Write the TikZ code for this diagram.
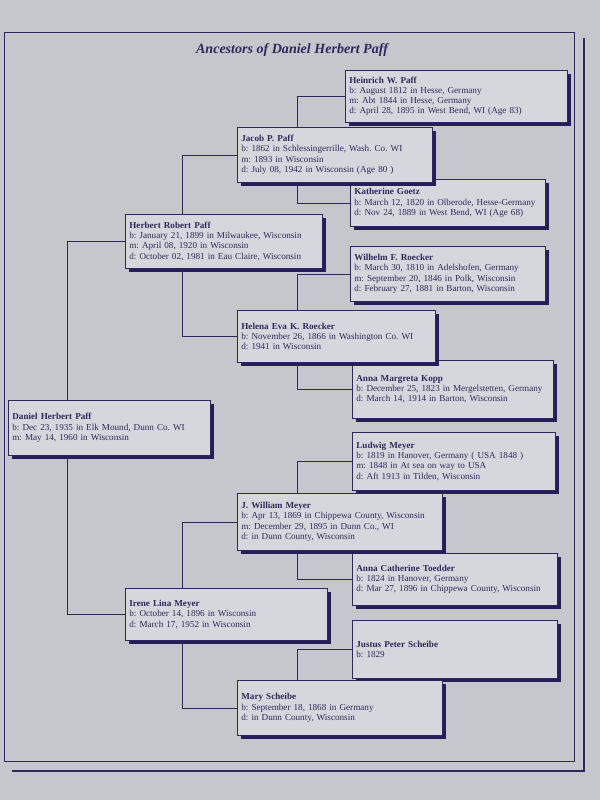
\documentclass[tikz,border=0pt]{standalone}
\usepackage{fontspec}
\setmainfont{Liberation Serif}
\usetikzlibrary{shadows}

\definecolor{ink}{RGB}{45,40,92}
\definecolor{boxfill}{RGB}{214,215,221}
\definecolor{paper}{RGB}{198,199,204}
\definecolor{shade}{RGB}{38,30,90}

\begin{document}
\frenchspacing
\begin{tikzpicture}[x=0.03cm, y=-0.03cm,
        % Box di una persona con ombra
        person/.style={
            draw=ink, fill=boxfill, line width=0.6pt,
            anchor=north west, align=left, text=ink,
            inner xsep=0.12cm, inner ysep=2pt,
            font=\fontsize{7.8}{8.7}\selectfont\frenchspacing,
            drop shadow={shadow xshift=3pt, shadow yshift=-3pt, fill=shade, opacity=1}
        },
        % Linee di collegamento
        link/.style={draw=ink, line width=0.6pt},
    ]

    % sfondo e cornice
    \fill[paper] (0,0) rectangle (600,800);
    \useasboundingbox (0,0) rectangle (600,800);
    \draw[ink, line width=0.8pt] (4,32) rectangle (574,761);
    \draw[ink, line width=2.5pt] (584,38) |- (12,771);

    \node[text=ink, font=\fontsize{12}{14}\selectfont\bfseries\itshape] (title) at (292,50) {Ancestors of Daniel Herbert Paff};

    % quarta generazione
    \node[person, text width=6.42cm, minimum height=1.56cm] (heinrich) at (345,70) {\textbf{Heinrich W. Paff}\\ b: August 1812 in Hesse, Germany\\ m: Abt 1844 in Hesse, Germany\\ d: April 28, 1895 in West Bend, WI (Age 83)};
    \node[person, text width=5.61cm, minimum height=1.41cm] (katherine) at (350,179) {\textbf{Katherine Goetz}\\ b: March 12, 1820 in Olberode, Hesse-Germany\\ d: Nov 24, 1889 in West Bend, WI (Age 68)};
    \node[person, text width=5.61cm, minimum height=1.65cm] (wilhelm) at (350,246) {\textbf{Wilhelm F. Roecker}\\ b: March 30, 1810 in Adelshofen, Germany\\ m: September 20, 1846 in Polk, Wisconsin\\ d: February 27, 1881 in Barton, Wisconsin};
    \node[person, text width=5.79cm, minimum height=1.74cm] (annam) at (352,360) {\textbf{Anna Margreta Kopp}\\ b: December 25, 1823 in Mergelstetten, Germany\\ d: March 14, 1914 in Barton, Wisconsin};
    \node[person, text width=5.85cm, minimum height=1.74cm] (ludwig) at (352,432) {\textbf{Ludwig Meyer}\\ b: 1819 in Hanover, Germany ( USA 1848 )\\ m: 1848 in At sea on way to USA\\ d: Aft 1913 in Tilden, Wisconsin};
    \node[person, text width=5.91cm, minimum height=1.56cm] (annac) at (352,553) {\textbf{Anna Catherine Toedder}\\ b: 1824 in Hanover, Germany\\ d: Mar 27, 1896 in Chippewa County, Wisconsin};
    \node[person, text width=5.91cm, minimum height=1.74cm] (justus) at (352,620) {\textbf{Justus Peter Scheibe}\\ b: 1829};

    % terza generazione
    \node[person, text width=5.61cm, minimum height=1.65cm] (jacob) at (237,127) {\textbf{Jacob P. Paff}\\ b: 1862 in Schlessingerrille, Wash. Co. WI\\ m: 1893 in Wisconsin\\ d: July 08, 1942 in Wisconsin (Age 80 )};
    \node[person, text width=5.7cm, minimum height=1.56cm] (helena) at (237,310) {\textbf{Helena Eva K. Roecker}\\ b: November 26, 1866 in Washington Co. WI\\ d: 1941 in Wisconsin};
    \node[person, text width=5.91cm, minimum height=1.71cm] (william) at (237,493) {\textbf{J. William Meyer}\\ b: Apr 13, 1869 in Chippewa County, Wisconsin\\ m: December 29, 1895 in Dunn Co., WI\\ d: in Dunn County, Wisconsin};
    \node[person, text width=5.91cm, minimum height=1.65cm] (mary) at (237,680) {\textbf{Mary Scheibe}\\ b: September 18, 1868 in Germany\\ d: in Dunn County, Wisconsin};

    % seconda generazione
    \node[person, text width=5.67cm, minimum height=1.62cm] (herbert) at (125,214) {\textbf{Herbert Robert Paff}\\ b: January 21, 1899 in Milwaukee, Wisconsin\\ m: April 08, 1920 in Wisconsin\\ d: October 02, 1981 in Eau Claire, Wisconsin};
    \node[person, text width=5.82cm, minimum height=1.56cm] (irene) at (125,588) {\textbf{Irene Lina Meyer}\\ b: October 14, 1896 in Wisconsin\\ d: March 17, 1952 in Wisconsin};

    % prima generazione
    \node[person, text width=5.82cm, minimum height=1.65cm] (daniel) at (8,400) {\textbf{Daniel Herbert Paff}\\ b: Dec 23, 1935 in Elk Mound, Dunn Co. WI\\ m: May 14, 1960 in Wisconsin};

    % collegamenti
    \draw[link] ([xshift=1.77cm]daniel.north west) |- (herbert.west);
    \draw[link] ([xshift=1.77cm]daniel.south west) |- (irene.west);
    \draw[link] ([xshift=1.71cm]herbert.north west) |- (jacob.west);
    \draw[link] ([xshift=1.71cm]herbert.south west) |- (helena.west);
    \draw[link] ([xshift=1.71cm]irene.north west) |- (william.west);
    \draw[link] ([xshift=1.71cm]irene.south west) |- (mary.west);
    \draw[link] ([xshift=1.8cm]jacob.north west) |- (heinrich.west);
    \draw[link] ([xshift=1.8cm]jacob.south west) |- (katherine.west);
    \draw[link] ([xshift=1.8cm]helena.north west) |- (wilhelm.west);
    \draw[link] ([xshift=1.8cm]helena.south west) |- (annam.west);
    \draw[link] ([xshift=1.8cm]william.north west) |- (ludwig.west);
    \draw[link] ([xshift=1.8cm]william.south west) |- (annac.west);
    \draw[link] ([xshift=1.8cm]mary.north west) |- (justus.west);

\end{tikzpicture}
\end{document}
